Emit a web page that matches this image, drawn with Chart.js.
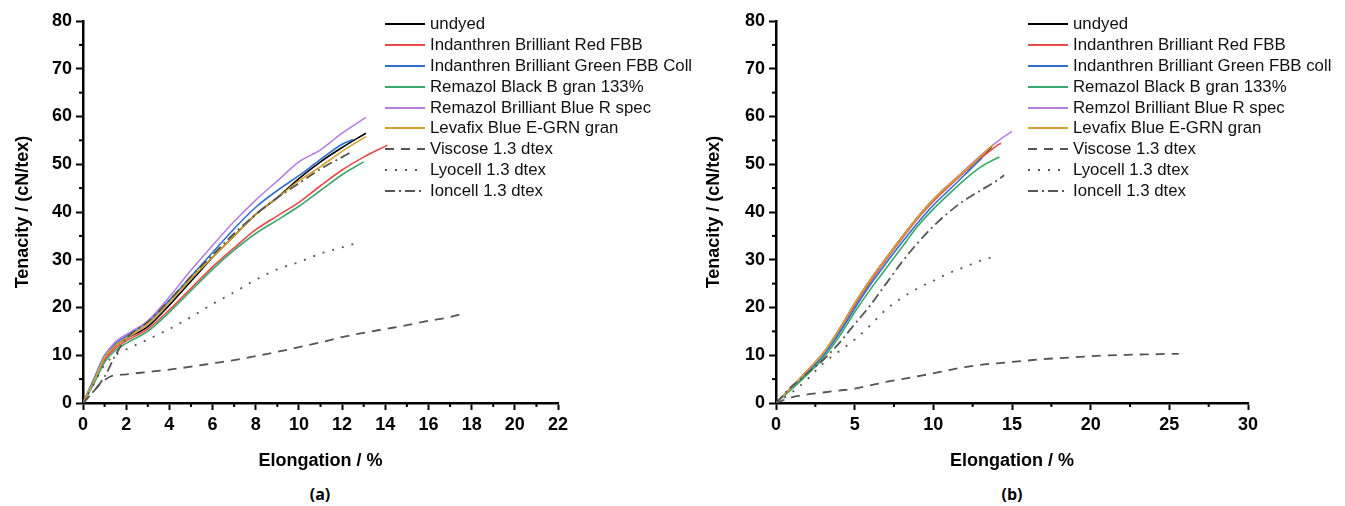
<!DOCTYPE html>
<html>
<head>
<meta charset="utf-8">
<script src="https://cdn.jsdelivr.net/npm/chart.js@4.4.1/dist/chart.umd.min.js"></script>
<style>
  body { margin: 0; background: #fff; width: 1345px; height: 506px; position: relative; overflow: hidden;
         font-family: "Liberation Sans", Arial, sans-serif; }
  .box { position: absolute; top: 0; width: 640px; height: 480px; }
  .legend { position: absolute; top: 13.5px; font-size: 16.8px; color: #111; }
  .legend div { height: 20.9px; display: flex; align-items: center; white-space: nowrap; }
  .legend svg { width: 40px; height: 4px; margin-right: 5px; }
  .cap { position: absolute; top: 483px; font: bold 16px "Open Sans", sans-serif; transform: translateX(-50%); }
</style>
</head>
<body>
<div class="box" style="left:0"><canvas id="chart-a"></canvas></div>
<div class="box" style="left:690px"><canvas id="chart-b"></canvas></div>
<div class="legend" id="legend-a" style="left:385px"></div>
<div class="legend" id="legend-b" style="left:1028px"></div>
<div class="cap" style="left:320px">(a)</div>
<div class="cap" style="left:1012px">(b)</div>

<script>
// --- (a) elongation %, tenacity cN/tex ---
const aUndyed = [[0,0],[0.5,4.5],[1,9.5],[1.5,12],[2,13.5],[3,16],[4,20.5],[5,25.5],[6,30.5],[7,35],[8,39.5],[9,43],[10,47],[11,50.5],[12,53.5],[13.1,56.5]];
const aRed = [[0,0],[0.5,4.3],[1,9],[1.5,11.5],[2,13],[3,15.5],[4,19.5],[5,24],[6,28.5],[7,32.5],[8,36.3],[9,39.2],[10,42],[11,45.5],[12,48.8],[13,51.5],[14.1,54]];
const aBlue = [[0,0],[0.5,5],[1,10],[1.5,12.5],[2,14],[3,17],[4,21.5],[5,26.5],[6,31.5],[7,36.5],[8,41],[9,44.5],[10,47.6],[11,51],[12,54.2],[12.5,55.2]];
const aGreen = [[0,0],[0.5,4],[1,8.5],[1.5,11],[2,12.5],[3,15],[4,19],[5,23.5],[6,28],[7,32],[8,35.5],[9,38.3],[10,41.2],[11,44.5],[12,47.8],[13,50.5]];
const aPurple = [[0,0],[0.5,4.5],[1,9.8],[1.5,12.8],[2,14.3],[3,17.2],[4,22.2],[5,27.8],[6,33],[7,38],[8,42.5],[9,46.5],[10,50.5],[11,53],[12,56.5],[13.1,59.8]];
const aYellow = [[0,0],[0.5,4.5],[1,9.5],[1.5,12],[2,13.5],[3,16.5],[4,21],[5,26],[6,30.5],[7,35],[8,39.5],[9,43],[10,46.5],[11,49.5],[12,52.7],[13.1,55.8]];
const aViscose = [[0,0],[0.5,2.5],[1,4.8],[1.3,5.6],[2,6],[3,6.5],[4,7],[5,7.6],[6,8.3],[7,9],[8,9.8],[9,10.7],[10,11.7],[11,12.7],[12,13.8],[13,14.7],[14,15.5],[15,16.3],[16,17.2],[17,18],[17.5,18.6]];
const aLyocell = [[0,0],[0.5,4],[1,8],[1.5,10],[2,11.2],[3,13.3],[4,15.5],[5,18],[6,20.7],[7,23.2],[8,25.8],[9,28],[10,29.5],[11,31.3],[12,32.6],[12.7,33.5]];
const aIoncell = [[0,0],[0.5,2.5],[1,5.5],[1.5,10],[2,13.5],[3,17],[4,21.5],[5,26.5],[6,31],[7,35.5],[8,39.5],[9,43],[10,46],[11,49],[12,51.5],[12.4,52.5]];

// --- (b) ---
const bUndyed = [[0,0],[1,3.3],[2,6.8],[3,10.4],[4,15.3],[5,20.8],[6,25.8],[7,30.3],[8,34.7],[9,38.9],[10,42.6],[11,45.7],[12,48.6],[13,51.5],[13.7,53.6]];
const bRed = [[0,0],[1,3.2],[2,6.6],[3,10.2],[4,15],[5,20.4],[6,25.4],[7,30],[8,34.4],[9,38.6],[10,42.2],[11,45.4],[12,48.4],[13,51.2],[14,53.8],[14.3,54.4]];
const bBlue = [[0,0],[1,3.1],[2,6.4],[3,9.9],[4,14.5],[5,19.8],[6,24.8],[7,29.3],[8,33.6],[9,37.7],[10,41.4],[11,44.6],[12,47.8],[13,51],[13.1,51.3]];
const bGreen = [[0,0],[1,2.9],[2,6],[3,9.4],[4,13.8],[5,19],[6,23.8],[7,28.2],[8,32.6],[9,37],[10,40.6],[11,43.8],[12,46.8],[13,49.4],[14,51.2],[14.2,51.5]];
const bPurple = [[0,0],[1,3.3],[2,6.8],[3,10.4],[4,15.3],[5,20.8],[6,25.8],[7,30.3],[8,34.7],[9,38.9],[10,42.6],[11,45.8],[12,48.8],[13,51.8],[14,54.6],[15,56.9]];
const bYellow = [[0,0],[1,3.3],[2,6.8],[3,10.4],[4,15.3],[5,20.8],[6,25.8],[7,30.3],[8,34.7],[9,38.9],[10,42.6],[11,45.7],[12,48.6],[13,51.6],[13.8,54.1]];
const bViscose = [[0,0],[1,1.2],[2,1.8],[3,2.2],[4,2.6],[5,3],[6,3.7],[7,4.4],[8,5],[9,5.6],[10,6.2],[11,6.9],[12,7.5],[13,8],[14,8.3],[15,8.6],[16,8.9],[17,9.2],[18,9.4],[19,9.6],[20,9.8],[21,9.95],[22,10.05],[23,10.15],[24,10.2],[25,10.3],[25.6,10.3]];
const bLyocell = [[0,0],[1,2.2],[2,5],[3,8.3],[4,10.8],[5,13.3],[6,16.3],[7,19.6],[8,22],[9,24],[10,25.6],[11,27.2],[12,28.5],[13,29.8],[13.8,30.6]];
const bIoncell = [[0,0],[0.5,1.8],[1,3.5],[1.5,4.8],[2,6.3],[3,9],[4,12.5],[5,16.5],[6,20.5],[7,25],[8,29.5],[9,33.5],[10,37],[11,40],[12,42.5],[13,44.5],[14,46.5],[14.5,47.7]];

const labelsA = ["undyed", "Indanthren Brilliant Red FBB", "Indanthren Brilliant Green FBB Coll",
  "Remazol Black B gran 133%", "Remazol Brilliant Blue R spec", "Levafix Blue E-GRN gran",
  "Viscose 1.3 dtex", "Lyocell 1.3 dtex", "Ioncell 1.3 dtex"];
const labelsB = ["undyed", "Indanthren Brilliant Red FBB", "Indanthren Brilliant Green FBB coll",
  "Remazol Black B gran 133%", "Remzol Brilliant Blue R spec", "Levafix Blue E-GRN gran",
  "Viscose 1.3 dtex", "Lyocell 1.3 dtex", "Ioncell 1.3 dtex"];

const ticksA = { xMax: 22, xStep: 2, xMinor: 1 };
const ticksB = { xMax: 30, xStep: 5, xMinor: 2.5 };
const yTicks = { max: 80, step: 10, minor: 5 };

// styles per series (same order as the labels)
const colors = ["#000000", "#e84a4a", "#2f6fd0", "#3aa86b", "#b57fe0", "#d4a22a", "#555555", "#555555", "#555555"];
const dashes = [[], [], [], [], [], [], [9, 7], [2, 8], [10, 4, 2, 4]];
const FONT = '"Liberation Sans", Arial, sans-serif';

// kleine Hilfsticks zwischen den Hauptticks
const minorTicks = {
    id: "minorTicks",
    afterDraw(chart, args, opts) {
        const ctx = chart.ctx;
        ctx.save();
        ctx.strokeStyle = "#000";
        ctx.lineWidth = 2;
        const x = chart.scales.x, y = chart.scales.y;
        for (let v = 0; v <= x.max + 1e-9; v += opts.x) {
            if (Math.abs(v / opts.xMajor - Math.round(v / opts.xMajor)) < 1e-6) continue;
            const px = x.getPixelForValue(v);
            ctx.beginPath(); ctx.moveTo(px, x.top); ctx.lineTo(px, x.top + 4); ctx.stroke();
        }
        for (let v = 0; v <= y.max + 1e-9; v += opts.y) {
            if (Math.abs(v / opts.yMajor - Math.round(v / opts.yMajor)) < 1e-6) continue;
            const py = y.getPixelForValue(v);
            ctx.beginPath(); ctx.moveTo(y.right, py); ctx.lineTo(y.right - 4, py); ctx.stroke();
        }
        ctx.restore();
    }
};

function toPoints(arr) {
    return arr.map(([x, y]) => ({ x, y }));
}

function makeChart(canvasId, series, tk, yWidth, titleGap) {
    const datasets = series.map((s, i) => ({
        data: toPoints(s),
        showLine: true,
        borderColor: colors[i],
        borderWidth: i < 6 ? 1.6 : 1.8,
        borderDash: dashes[i],
        pointRadius: 0,
        cubicInterpolationMode: "monotone",
        order: i < 6 ? 9 - i : 0,
    }));
    const tickFont = { family: FONT, size: 18, weight: "bold" };
    const titleFont = { family: FONT, size: 18, weight: "bold" };
    return new Chart(document.getElementById(canvasId), {
        type: "scatter",
        data: { datasets },
        plugins: [minorTicks],
        options: {
            responsive: true,
            maintainAspectRatio: false,
            animation: false,
            layout: { padding: { top: 21, right: 82, left: 0, bottom: 0 } },
            plugins: {
                legend: { display: false },
                tooltip: { enabled: false },
                minorTicks: { x: tk.xMinor, xMajor: tk.xStep, y: yTicks.minor, yMajor: yTicks.step },
            },
            scales: {
                x: {
                    type: "linear", min: 0, max: tk.xMax,
                    afterFit: (s) => { s.height = 77; },
                    border: { display: true, color: "#000", width: 2.5 },
                    grid: { drawOnChartArea: false, drawTicks: true, tickLength: 7, tickWidth: 2, tickColor: "#000" },
                    ticks: { stepSize: tk.xStep, color: "#000", font: tickFont, padding: 4, maxRotation: 0 },
                    title: { display: true, text: "Elongation / %", color: "#000", font: titleFont, padding: { top: 0, bottom: 8 } },
                },
                y: {
                    type: "linear", min: 0, max: yTicks.max,
                    afterFit: (s) => { s.width = yWidth; },
                    border: { display: true, color: "#000", width: 2.5 },
                    grid: { drawOnChartArea: false, drawTicks: true, tickLength: 7, tickWidth: 2, tickColor: "#000" },
                    ticks: { stepSize: yTicks.step, color: "#000", font: tickFont, padding: 4 },
                    title: { display: true, text: "Tenacity / (cN/tex)", color: "#000", font: titleFont, padding: { top: titleGap, bottom: 0 } },
                },
            },
        },
    });
}

function buildLegend(elId, labels) {
    const box = document.getElementById(elId);
    labels.forEach((txt, i) => {
        const row = document.createElement("div");
        const dash = dashes[i].length ? `stroke-dasharray="${dashes[i].join(" ")}"` : "";
        row.innerHTML = `<svg viewBox="0 0 40 4"><line x1="0" y1="2" x2="40" y2="2" stroke="${colors[i]}" stroke-width="2" ${dash}/></svg><span>${txt}</span>`;
        box.appendChild(row);
    });
}

makeChart("chart-a", [aUndyed, aRed, aBlue, aGreen, aPurple, aYellow, aViscose, aLyocell, aIoncell], ticksA, 83, 12);
makeChart("chart-b", [bUndyed, bRed, bBlue, bGreen, bPurple, bYellow, bViscose, bLyocell, bIoncell], ticksB, 86, 13);
buildLegend("legend-a", labelsA);
buildLegend("legend-b", labelsB);
</script>
</body>
</html>
